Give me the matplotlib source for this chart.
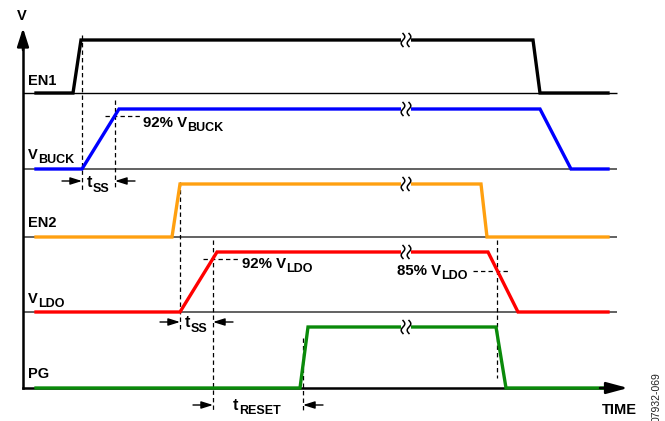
import numpy as np
import matplotlib
matplotlib.use("Agg")
import matplotlib.pyplot as plt

plt.rcParams['font.family'] = ['Liberation Sans', 'DejaVu Sans']

# ---- data (time axis units ~ horizontal position, level per lane) ----
lane_names = [('EN1', ''), ('V', 'BUCK'), ('EN2', ''), ('V', 'LDO'), ('PG', '')]
lane_colors = ['#000000', '#0000ff', '#ffa010', '#ff0000', '#0a8a0a']
lane_low = [93, 169, 237, 312, 388]
lane_high = [40, 109, 184, 252, 327]
lane_label_y = [85, 159, 227, 303, 378]

en1_t = [36, 73, 81, 533, 540, 608]
vbuck_t = [36, 82, 119, 540, 571, 608]
en2_t = [36, 172, 180, 481, 487, 608]
vldo_t = [36, 180, 217, 488, 518, 608]
pg_t = [36, 300, 308, 496, 506, 608]
level_pattern = [0, 0, 1, 1, 0, 0]
signals_t = [en1_t, vbuck_t, en2_t, vldo_t, pg_t]

break_t = 406

# dashed markers: (x, y0, y1)
vdash = [(82, 35, 190), (115, 100, 190), (180, 182, 330),
         (213, 240, 412), (303, 338, 412), (497, 240, 378)]
hdash = [(105, 140, 116), (203, 238, 259), (473, 508, 271)]

# interval arrows: (left_mark, right_mark, y, main, sub, label_x, label_y)
intervals = [(82, 115, 181, 't', 'SS', 87, 187),
             (180, 213, 322, 't', 'SS', 185, 327),
             (213, 303, 405, 't', 'RESET', 233, 410)]

annots = [('92% V', 'BUCK', 143, 127),
          ('92% V', 'LDO', 242, 268),
          ('85% V', 'LDO', 397, 275)]

W, H = 665, 421
fig = plt.figure(figsize=(W / 100, H / 100), dpi=100)
ax = fig.add_axes([0, 0, 1, 1])
ax.set_xlim(0, W)
ax.set_ylim(H, 0)
ax.axis('off')
renderer = fig.canvas.get_renderer()


def sub_text(x, y, main, sub, fs_main=11, fs_sub=9, dy=4.5):
    t = ax.text(x, y, main, fontsize=fs_main, fontweight='bold',
                ha='left', va='baseline', zorder=6)
    if sub:
        bb = t.get_window_extent(renderer)
        x1 = ax.transData.inverted().transform((bb.x1, bb.y0))[0]
        ax.text(x1 + 0.3, y + dy, sub, fontsize=fs_sub, fontweight='bold',
                ha='left', va='baseline', zorder=6)


# baselines
for i, yb in enumerate(lane_low[:-1]):
    ax.plot([23, 617], [yb, yb], color='#000000' if i == 0 else '#555555',
            lw=1.0 if i == 0 else 1.3, zorder=1, solid_capstyle='butt')

# axes
ax.plot([23, 23], [388, 40], color='black', lw=1.8, zorder=2)
ax.annotate('', xy=(23, 28), xytext=(23, 50),
            arrowprops=dict(arrowstyle='-|>,head_length=1.1,head_width=0.35',
                            color='black', lw=1.8, shrinkA=0, shrinkB=0))
ax.plot([23, 612], [388, 388], color='black', lw=1.8, zorder=2)
ax.annotate('', xy=(628, 388), xytext=(600, 388),
            arrowprops=dict(arrowstyle='-|>,head_length=1.3,head_width=0.35',
                            color='black', lw=1.8, shrinkA=0, shrinkB=0), zorder=5)

# signals
for t, c, lo, hi in zip(signals_t, lane_colors, lane_low, lane_high):
    y = [lo + (hi - lo) * l for l in level_pattern]
    ax.plot(t, y, color=c, lw=2.4, zorder=3, solid_joinstyle='miter')
    ax.plot([break_t - 5, break_t + 5], [hi, hi], color='white', lw=4, zorder=4,
            solid_capstyle='butt')
    s = np.linspace(-1, 1, 40)
    for dx in (-3, 3):
        ax.plot(break_t + dx - 1.8 * np.sin(np.pi * s), hi + 6.5 * s,
                color='black', lw=1.1, zorder=5)

# dashed guides
for x, y0, y1 in vdash:
    ax.plot([x, x], [y0, y1], color='black', lw=0.9, ls=(0, (3.5, 2.5)), zorder=2)
for x0, x1, y in hdash:
    ax.plot([x0, x1], [y, y], color='black', lw=0.9, ls=(0, (3.5, 2.5)), zorder=2)

# interval arrows
for xl, xr, y, m, sb, lx, ly in intervals:
    ax.annotate('', xy=(xl, y), xytext=(xl - 20, y),
                arrowprops=dict(arrowstyle='-|>,head_length=0.7,head_width=0.22',
                                color='black', lw=1.0, shrinkA=0, shrinkB=0))
    ax.annotate('', xy=(xr, y), xytext=(xr + 20, y),
                arrowprops=dict(arrowstyle='-|>,head_length=0.7,head_width=0.22',
                                color='black', lw=1.0, shrinkA=0, shrinkB=0))
    sub_text(lx, ly, m, sb, fs_main=11.5, fs_sub=9, dy=4.5)

# lane labels
for (m, sb), ly in zip(lane_names, lane_label_y):
    sub_text(28, ly, m, sb, fs_main=10.5, fs_sub=9, dy=4)

# percentage annotations
for m, sb, x, y in annots:
    sub_text(x, y, m, sb, fs_main=10.8, fs_sub=9, dy=4)

ax.text(22, 20, 'V', fontsize=10.5, fontweight='bold', ha='center', va='baseline')
ax.text(602, 414, 'TIME', fontsize=10.5, fontweight='bold', ha='left', va='baseline')
ax.text(657, 397, '07932-069', fontsize=7.5, rotation=90, ha='center', va='center',
        color='#222222')

fig.savefig('out.png', dpi=100)
